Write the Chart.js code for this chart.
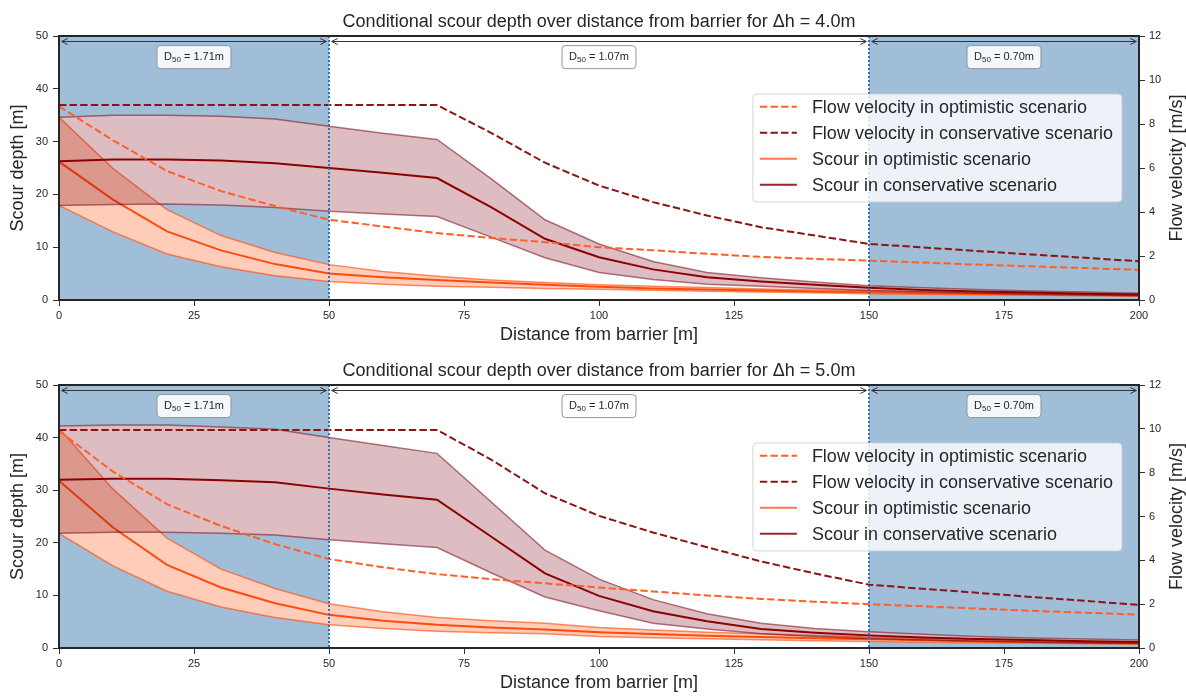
<!DOCTYPE html>
<html>
<head>
<meta charset="utf-8">
<script src="https://cdn.jsdelivr.net/npm/chart.js@4/dist/chart.umd.min.js"></script>
<style>
  html, body { margin: 0; padding: 0; background: #ffffff; }
  canvas { display: block; }
</style>
</head>
<body>
<canvas id="chart4" width="1186" height="348"></canvas>
<canvas id="chart5" width="1186" height="348"></canvas>
<script>
// Distance from barrier [m]
const distance = [0, 10, 20, 30, 40, 50, 60, 70, 80, 90, 100, 110, 120, 130, 140, 150, 160, 170, 180, 190, 200];

// Bed zones with their median grain size D50
const zoneEdges = [0, 50, 150, 200];
const zoneD50 = ['1.71', '1.07', '0.70'];
const shadedZones = [[0, 50], [150, 200]];

// Tick labels
const xTicks = [0, 25, 50, 75, 100, 125, 150, 175, 200];
const depthTicks = [0, 10, 20, 30, 40, 50];
const velocityTicks = [0, 2, 4, 6, 8, 10, 12];

// Δh = 4.0 m : scour depth [m]
const optLow4   = [17.9, 12.9, 8.7, 6.3, 4.6, 3.5, 3.0, 2.6, 2.4, 2.2, 2.05, 1.85, 1.65, 1.5, 1.35, 1.2, 1.1, 1.0, 0.9, 0.8, 0.7];
const optMean4  = [26.2, 19.0, 13.0, 9.4, 6.8, 5.0, 4.3, 3.8, 3.3, 2.9, 2.5, 2.2, 2.0, 1.8, 1.6, 1.45, 1.3, 1.2, 1.1, 1.0, 0.9];
const optHigh4  = [34.6, 24.9, 17.1, 12.2, 9.0, 6.7, 5.4, 4.5, 3.8, 3.3, 2.9, 2.6, 2.35, 2.1, 1.9, 1.75, 1.6, 1.45, 1.35, 1.25, 1.15];
const consLow4  = [17.9, 18.1, 18.2, 18.0, 17.5, 16.8, 16.3, 15.8, 11.9, 8.0, 5.2, 3.9, 3.0, 2.6, 2.2, 1.8, 1.5, 1.3, 1.1, 0.95, 0.8];
const consMean4 = [26.3, 26.6, 26.6, 26.4, 25.9, 25.0, 24.1, 23.1, 17.6, 11.6, 8.1, 5.8, 4.3, 3.5, 2.9, 2.3, 1.9, 1.6, 1.4, 1.2, 1.05];
const consHigh4 = [34.6, 35.0, 35.0, 34.8, 34.3, 32.9, 31.6, 30.4, 23.0, 15.2, 10.6, 7.3, 5.2, 4.2, 3.4, 2.7, 2.3, 2.0, 1.7, 1.5, 1.3];
// Δh = 4.0 m : flow velocity [m/s]
const velOpt4  = [8.8, 7.26, 5.86, 4.95, 4.27, 3.65, 3.34, 3.04, 2.82, 2.63, 2.40, 2.26, 2.10, 1.96, 1.87, 1.79, 1.70, 1.61, 1.53, 1.45, 1.37];
const velCons4 = [8.86, 8.86, 8.86, 8.86, 8.86, 8.86, 8.86, 8.86, 7.6, 6.24, 5.2, 4.45, 3.84, 3.31, 2.93, 2.55, 2.39, 2.23, 2.07, 1.92, 1.76];

// Δh = 5.0 m : scour depth [m]
const optLow5   = [21.8, 15.6, 10.8, 7.8, 5.8, 4.4, 3.7, 3.2, 2.9, 2.7, 2.2, 1.95, 1.75, 1.55, 1.4, 1.25, 1.1, 1.0, 0.9, 0.8, 0.7];
const optMean5  = [31.8, 22.9, 15.8, 11.5, 8.5, 6.3, 5.2, 4.4, 3.9, 3.5, 3.0, 2.65, 2.35, 2.1, 1.85, 1.65, 1.45, 1.3, 1.15, 1.0, 0.9];
const optHigh5  = [41.8, 30.2, 20.9, 15.0, 11.3, 8.4, 6.9, 5.8, 5.2, 4.7, 3.9, 3.4, 3.0, 2.7, 2.4, 2.1, 1.85, 1.65, 1.45, 1.3, 1.15];
const consLow5  = [21.8, 22.0, 22.0, 21.8, 21.5, 20.6, 19.8, 19.1, 14.3, 9.7, 7.1, 4.7, 3.6, 2.7, 2.2, 1.8, 1.5, 1.3, 1.1, 0.95, 0.85];
const consMean5 = [32.0, 32.2, 32.2, 31.9, 31.5, 30.3, 29.2, 28.2, 21.2, 14.2, 9.9, 7.0, 5.1, 3.6, 2.9, 2.4, 2.0, 1.7, 1.5, 1.3, 1.15];
const consHigh5 = [42.2, 42.4, 42.4, 42.0, 41.6, 40.0, 38.5, 37.0, 27.8, 18.6, 13.1, 9.2, 6.5, 4.7, 3.7, 3.1, 2.6, 2.2, 1.9, 1.7, 1.5];
// Δh = 5.0 m : flow velocity [m/s]
const velOpt5  = [9.9, 8.05, 6.56, 5.57, 4.74, 4.06, 3.68, 3.37, 3.14, 2.95, 2.76, 2.58, 2.40, 2.24, 2.11, 2.0, 1.9, 1.8, 1.7, 1.61, 1.52];
const velCons5 = [9.95, 9.95, 9.95, 9.95, 9.95, 9.95, 9.95, 9.95, 8.6, 7.06, 6.03, 5.27, 4.6, 3.95, 3.4, 2.89, 2.7, 2.52, 2.33, 2.15, 1.97];

const legendLabels = [
  'Flow velocity in optimistic scenario',
  'Flow velocity in conservative scenario',
  'Scour in optimistic scenario',
  'Scour in conservative scenario'
];

const FONT = '"Liberation Sans", Arial, sans-serif';
const INK = '#262626';
const ZONE_BLUE = 'rgb(161,190,216)';
const OPT_LINE = 'rgb(255,75,12)';
const OPT_EDGE = 'rgba(255,69,0,0.6)';
const OPT_FILL = 'rgba(255,69,0,0.27)';
const CONS_LINE = 'rgb(139,0,0)';
const CONS_EDGE = 'rgba(120,10,25,0.55)';
const CONS_FILL = 'rgba(130,10,25,0.27)';
const VEL_OPT = 'rgb(255,95,40)';
const VEL_CONS = 'rgb(140,20,20)';
const DASH = [7.4, 3.2];

const legendStyles = [
  { color: VEL_OPT, dash: DASH },
  { color: VEL_CONS, dash: DASH },
  { color: 'rgb(255,120,75)', dash: [] },
  { color: 'rgb(150,40,45)', dash: [] }
];

function points(values) {
  return distance.map((x, i) => ({ x: x, y: values[i] }));
}

function lineSet(values, extra) {
  return Object.assign({
    data: points(values),
    yAxisID: 'y',
    pointRadius: 0,
    pointHoverRadius: 0,
    tension: 0,
    fill: false,
    borderWidth: 1.5
  }, extra);
}

// Draws a "D50 = value m" label in a rounded box centred at (cx, cy)
function drawGrainBox(ctx, cx, cy, value) {
  const big = '11px ' + FONT;
  const small = '8px ' + FONT;
  ctx.font = big;
  const wD = ctx.measureText('D').width;
  const rest = ' = ' + value + 'm';
  const wRest = ctx.measureText(rest).width;
  ctx.font = small;
  const wSub = ctx.measureText('50').width;
  const textW = wD + wSub + wRest;
  const w = textW + 14, h = 23;
  const x0 = cx - w / 2, y0 = cy - h / 2;
  ctx.save();
  ctx.beginPath();
  ctx.roundRect(x0, y0, w, h, 3.5);
  ctx.fillStyle = 'rgba(255,255,255,0.88)';
  ctx.fill();
  ctx.strokeStyle = 'rgb(150,150,150)';
  ctx.lineWidth = 1;
  ctx.stroke();
  ctx.fillStyle = INK;
  ctx.textBaseline = 'middle';
  ctx.textAlign = 'left';
  let tx = cx - textW / 2;
  ctx.font = big;
  ctx.fillText('D', tx, cy);
  tx += wD;
  ctx.font = small;
  ctx.fillText('50', tx, cy + 2.5);
  tx += wSub;
  ctx.font = big;
  ctx.fillText(rest, tx, cy);
  ctx.restore();
}

function drawDoubleArrow(ctx, x1, x2, y) {
  const head = 6, half = 3;
  ctx.save();
  ctx.strokeStyle = '#333333';
  ctx.lineWidth = 1;
  ctx.beginPath();
  ctx.moveTo(x1, y); ctx.lineTo(x2, y);
  ctx.moveTo(x1 + head, y - half); ctx.lineTo(x1, y); ctx.lineTo(x1 + head, y + half);
  ctx.moveTo(x2 - head, y - half); ctx.lineTo(x2, y); ctx.lineTo(x2 - head, y + half);
  ctx.stroke();
  ctx.restore();
}

const decorPlugin = {
  id: 'decor',
  beforeDatasetsDraw(chart) {
    const { ctx, chartArea: a, scales } = chart;
    ctx.save();
    ctx.fillStyle = ZONE_BLUE;
    shadedZones.forEach(([x0, x1]) => {
      const p0 = scales.x.getPixelForValue(x0);
      const p1 = scales.x.getPixelForValue(x1);
      ctx.fillRect(p0, a.top, p1 - p0, a.bottom - a.top);
    });
    ctx.restore();
  },
  afterDatasetsDraw(chart) {
    const { ctx, chartArea: a, scales } = chart;
    const xs = scales.x, ys = scales.y;
    // zone boundaries
    ctx.save();
    ctx.strokeStyle = 'rgb(45,115,190)';
    ctx.lineWidth = 2;
    ctx.setLineDash([2, 2]);
    zoneEdges.slice(1, -1).forEach(v => {
      const px = Math.round(xs.getPixelForValue(v));
      ctx.beginPath();
      ctx.moveTo(px, a.top);
      ctx.lineTo(px, a.bottom);
      ctx.stroke();
    });
    ctx.restore();
    // zone arrows and grain-size labels
    for (let i = 0; i < zoneD50.length; i++) {
      const x1 = xs.getPixelForValue(zoneEdges[i] + 0.5);
      const x2 = xs.getPixelForValue(zoneEdges[i + 1] - 0.5);
      drawDoubleArrow(ctx, x1, x2, Math.round(ys.getPixelForValue(49)) + 0.5);
      const cx = xs.getPixelForValue((zoneEdges[i] + zoneEdges[i + 1]) / 2);
      drawGrainBox(ctx, cx, ys.getPixelForValue(46), zoneD50[i]);
    }
  },
  afterDraw(chart, args, opts) {
    const { ctx, chartArea: a } = chart;
    // legend
    ctx.save();
    ctx.font = '18px ' + FONT;
    const maxW = Math.max(...legendLabels.map(t => ctx.measureText(t).width));
    const w = 7 + 37 + 15 + maxW + 9;
    const h = 108;
    const right = a.right - 17;
    const left = right - w;
    const top = a.top + 58;
    ctx.beginPath();
    ctx.roundRect(left, top, w, h, 4);
    ctx.fillStyle = 'rgba(255,255,255,0.8)';
    ctx.fill();
    ctx.strokeStyle = 'rgba(204,204,204,0.8)';
    ctx.lineWidth = 1;
    ctx.stroke();
    legendLabels.forEach((label, i) => {
      const cy = top + 12.7 + 26 * i;
      const st = legendStyles[i];
      ctx.strokeStyle = st.color;
      ctx.lineWidth = 2;
      ctx.setLineDash(st.dash);
      ctx.beginPath();
      ctx.moveTo(left + 7, cy);
      ctx.lineTo(left + 44, cy);
      ctx.stroke();
      ctx.setLineDash([]);
      ctx.fillStyle = INK;
      ctx.textAlign = 'left';
      ctx.textBaseline = 'middle';
      ctx.fillText(label, left + 59, cy + 1);
    });
    ctx.restore();

    // frame
    ctx.save();
    ctx.strokeStyle = '#262626';
    ctx.lineWidth = 2;
    ctx.strokeRect(a.left, a.top, a.right - a.left, a.bottom - a.top);
    ctx.restore();

    // titles
    ctx.save();
    ctx.fillStyle = INK;
    ctx.textBaseline = 'middle';
    ctx.textAlign = 'center';
    ctx.font = '18px ' + FONT;
    ctx.fillText(opts.title, (a.left + a.right) / 2, a.top - 14);
    ctx.fillText('Distance from barrier [m]', (a.left + a.right) / 2, a.bottom + 35);
    const midY = (a.top + a.bottom) / 2;
    ctx.save();
    ctx.translate(18, midY);
    ctx.rotate(-Math.PI / 2);
    ctx.fillText('Scour depth [m]', 0, 0);
    ctx.restore();
    ctx.save();
    ctx.translate(a.right + 38, midY);
    ctx.rotate(-Math.PI / 2);
    ctx.fillText('Flow velocity [m/s]', 0, 0);
    ctx.restore();
    ctx.restore();
  }
};

function tickFont() { return { family: FONT, size: 11 }; }

function buildChart(canvasId, title, topPad, s) {
  const datasets = [
    // 0..2 optimistic scour band and mean
    lineSet(s.optLow,  { borderColor: OPT_EDGE, order: 90 }),
    lineSet(s.optHigh, { borderColor: OPT_EDGE, order: 90, fill: { target: 0 }, backgroundColor: OPT_FILL }),
    lineSet(s.optMean, { borderColor: OPT_LINE, borderWidth: 2, order: 80 }),
    // 3..5 conservative scour band and mean
    lineSet(s.consLow,  { borderColor: CONS_EDGE, order: 70 }),
    lineSet(s.consHigh, { borderColor: CONS_EDGE, order: 70, fill: { target: 3 }, backgroundColor: CONS_FILL }),
    lineSet(s.consMean, { borderColor: CONS_LINE, borderWidth: 2, order: 60 }),
    // 6..7 flow velocities on the right axis
    lineSet(s.velOpt,  { yAxisID: 'y1', borderColor: VEL_OPT, borderWidth: 2, borderDash: DASH, order: 50 }),
    lineSet(s.velCons, { yAxisID: 'y1', borderColor: VEL_CONS, borderWidth: 2, borderDash: DASH, order: 50 }),
    // 8..9 opaque white bases under the translucent bands
    lineSet(s.optHigh,  { borderColor: 'rgba(0,0,0,0)', borderWidth: 0, order: 100, fill: { target: 0 }, backgroundColor: '#ffffff' }),
    lineSet(s.consHigh, { borderColor: 'rgba(0,0,0,0)', borderWidth: 0, order: 99, fill: { target: 3 }, backgroundColor: '#ffffff' })
  ];

  const grid = { display: true, drawOnChartArea: false, drawTicks: true, tickLength: 6, color: '#333333', tickColor: '#333333', lineWidth: 1 };

  return new Chart(document.getElementById(canvasId), {
    type: 'line',
    data: { datasets: datasets },
    options: {
      responsive: false,
      animation: false,
      devicePixelRatio: 1,
      layout: { padding: { top: topPad, left: 0, right: 0, bottom: 0 } },
      plugins: {
        legend: { display: false },
        tooltip: { enabled: false },
        decor: { title: title }
      },
      scales: {
        x: {
          type: 'linear', min: 0, max: 200,
          afterBuildTicks(sc) { sc.ticks = xTicks.map(v => ({ value: v })); },
          ticks: { color: INK, font: tickFont(), padding: 3, maxRotation: 0, autoSkip: false },
          grid: grid,
          border: { display: false },
          afterFit(sc) { sc.height = 48; }
        },
        y: {
          position: 'left', min: 0, max: 50,
          afterBuildTicks(sc) { sc.ticks = depthTicks.map(v => ({ value: v })); },
          ticks: { color: INK, font: tickFont(), padding: 5, autoSkip: false },
          grid: grid,
          border: { display: false },
          afterFit(sc) { sc.width = 59; }
        },
        y1: {
          position: 'right', min: 0, max: 12,
          afterBuildTicks(sc) { sc.ticks = velocityTicks.map(v => ({ value: v })); },
          ticks: { color: INK, font: tickFont(), padding: 4, autoSkip: false },
          grid: grid,
          border: { display: false },
          afterFit(sc) { sc.width = 47; }
        }
      }
    },
    plugins: [decorPlugin]
  });
}

buildChart('chart4', 'Conditional scour depth over distance from barrier for \u0394h = 4.0m', 36, {
  optLow: optLow4, optMean: optMean4, optHigh: optHigh4,
  consLow: consLow4, consMean: consMean4, consHigh: consHigh4,
  velOpt: velOpt4, velCons: velCons4
});
buildChart('chart5', 'Conditional scour depth over distance from barrier for \u0394h = 5.0m', 37, {
  optLow: optLow5, optMean: optMean5, optHigh: optHigh5,
  consLow: consLow5, consMean: consMean5, consHigh: consHigh5,
  velOpt: velOpt5, velCons: velCons5
});
</script>
</body>
</html>
